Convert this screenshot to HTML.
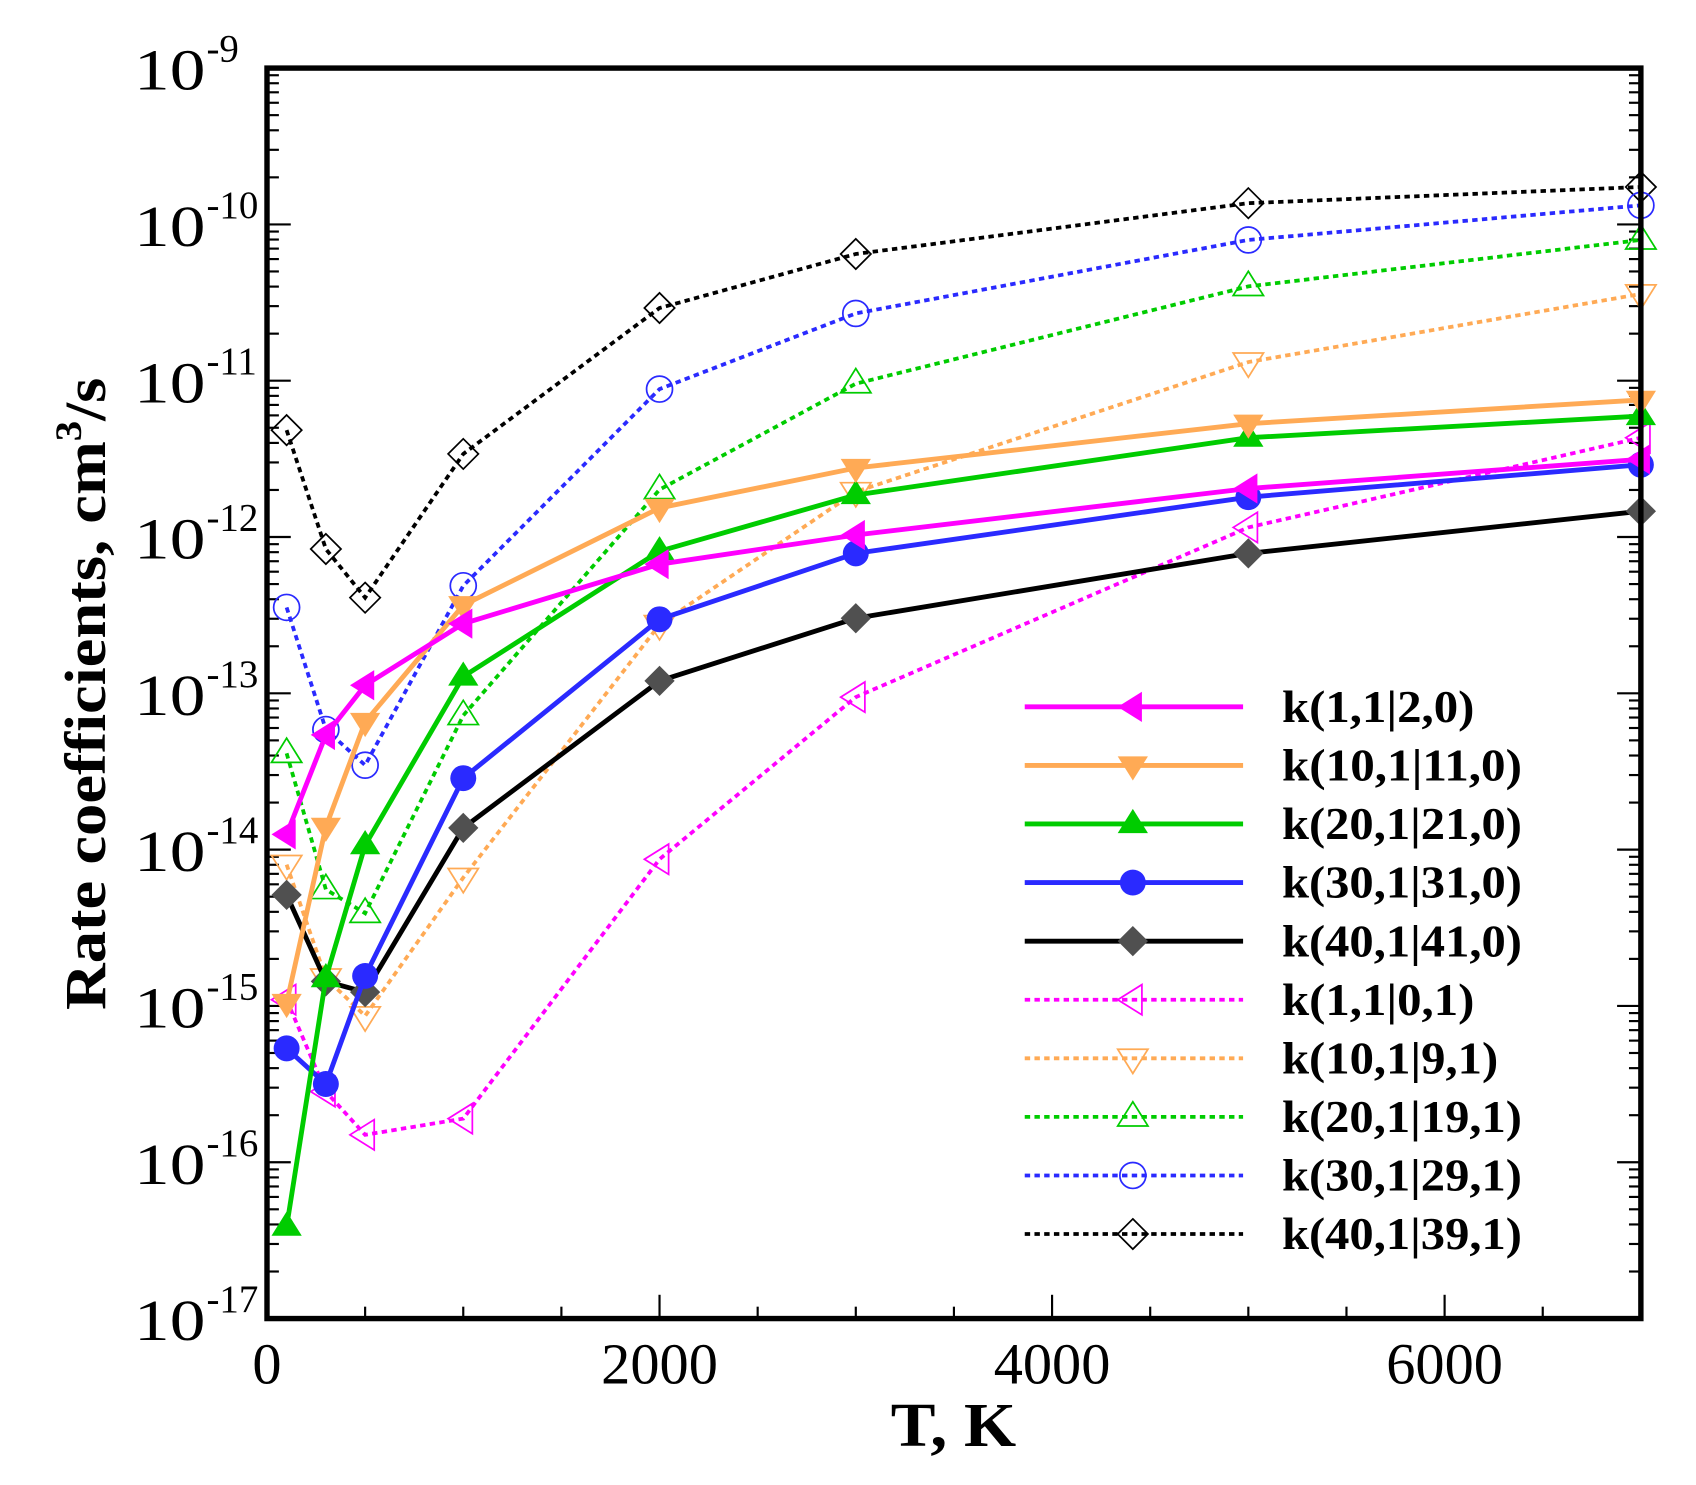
<!DOCTYPE html>
<html><head><meta charset="utf-8"><style>
html,body{margin:0;padding:0;background:#fff;}
svg{display:block;}
</style></head><body>
<svg id="s" xmlns="http://www.w3.org/2000/svg" width="1696" height="1485" viewBox="0 0 1569 1374" preserveAspectRatio="none"></svg>
<script>
const s=document.getElementById('s');
let h='';
const X0=247,X1=1518,Y0=63,Y1=1220;
const xp=t=>X0+t/7000*(X1-X0);
const dec=(Y1-Y0)/8;
const yp=l=>Y0+(-9-l)*dec;
for(let d=-17;d<-9;d++){
  for(let m=1;m<10;m++){
    const y=yp(d+Math.log10(m));
    const L=m==1?22:11;
    h+=`<line x1="${X0}" y1="${y}" x2="${X0+L}" y2="${y}" stroke="#000" stroke-width="2"/>`;
    h+=`<line x1="${X1}" y1="${y}" x2="${X1-L}" y2="${y}" stroke="#000" stroke-width="2"/>`;
  }
}
for(let d=-17;d<=-9;d++){
  const y=yp(d);
  h+=`<text x="190" y="${y+20}" text-anchor="end" font-family="Liberation Serif, serif" font-size="54" textLength="66" lengthAdjust="spacingAndGlyphs">10</text>`;
  h+=`<text x="191" y="${y-6}" font-family="Liberation Serif, serif" font-size="36">${d}</text>`;
}
for(let t=500;t<7000;t+=500){
  const x=xp(t);const L=t%2000==0?22:11;
  h+=`<line x1="${x}" y1="${Y1}" x2="${x}" y2="${Y1-L}" stroke="#000" stroke-width="2"/>`;
}
for(const t of [0,2000,4000,6000]){
  h+=`<text x="${xp(t)}" y="1280" text-anchor="middle" font-family="Liberation Serif, serif" font-size="54">${t}</text>`;
}
h+=`<text x="882" y="1338" text-anchor="middle" font-family="Liberation Serif, serif" font-weight="bold" font-size="58" textLength="116" lengthAdjust="spacingAndGlyphs">T, K</text>`;
h+=`<text transform="translate(97,642) rotate(-90)" text-anchor="middle" font-family="Liberation Serif, serif" font-weight="bold" font-size="54" textLength="585" lengthAdjust="spacingAndGlyphs">Rate coefficients, cm<tspan dy="-22" font-size="34">3</tspan><tspan dy="22">/s</tspan></text>`;
const T=[100,300,500,1000,2000,3000,5000,7000];
const S=[
 ['#ff00ff','lt',0,[772,680,634,577,522,495,452,425],'k(1,1|2,0)',178],
 ['#ffaa55','dt',0,[928,765,668,560,470,433,392,370],'k(10,1|11,0)',222],
 ['#00cc00','ut',0,[1135,905,782,626,510,458,405,385],'k(20,1|21,0)',222],
 ['#2a2aff','c',0,[970,1003,903,720,573,512,460,430],'k(30,1|31,0)',222],
 ['#000000','d',0,[828,908,918,766,630,572,512,473],'k(40,1|41,0)',222],
 ['#ff00ff','lt',1,[925,1010,1050,1035,795,645,488,405],'k(1,1|0,1)',178],
 ['#ffaa55','dt',1,[800,905,940,812,578,455,335,272],'k(10,1|9,1)',200],
 ['#00cc00','ut',1,[697,823,845,662,453,355,265,222],'k(20,1|19,1)',222],
 ['#2a2aff','c',1,[562,675,708,542,360,290,222,190],'k(30,1|29,1)',222],
 ['#000000','d',1,[398,508,553,420,285,235,188,173],'k(40,1|39,1)',222]
];
function mk(type,x,y,col,open){
  const r=14;
  const fill=open?'none':(type=='d'?'#505050':col);
  const st=open?`stroke="${col}" stroke-width="1.6"`:'';
  let p;
  if(type=='c')return `<circle cx="${x}" cy="${y}" r="${r-2}" fill="${fill}" ${st}/>`;
  if(type=='lt')p=[[x-r,y],[x+r*0.6,y-r],[x+r*0.6,y+r]];
  if(type=='dt')p=[[x-r,y-r*0.6],[x+r,y-r*0.6],[x,y+r]];
  if(type=='ut')p=[[x-r,y+r*0.6],[x+r,y+r*0.6],[x,y-r]];
  if(type=='d')p=[[x,y-r],[x+r,y],[x,y+r],[x-r,y]];
  return `<polygon points="${p.map(q=>q.join(',')).join(' ')}" fill="${fill}" ${st}/>`;
}
let order=[9,8,7,6,5,4,3,2,1,0];
for(const i of order){
  const [col,type,dash,ys]=S[i];
  const pts=T.map((t,j)=>xp(t)+','+ys[j]).join(' ');
  const da=dash?'stroke-dasharray="5,4"':'';
  h+=`<polyline points="${pts}" fill="none" stroke="${col}" stroke-width="${dash?3.5:4.5}" ${da}/>`;
  T.forEach((t,j)=>{h+=mk(type,xp(t),ys[j],col,dash);});
}
S.forEach((sr,i)=>{
  const y=654+i*54.2;
  const [col,type,dash]=sr;
  h+=`<line x1="948" y1="${y}" x2="1150" y2="${y}" stroke="${col}" stroke-width="${dash?3.5:4.5}" ${dash?'stroke-dasharray="5,4"':''}/>`;
  h+=mk(type,1048,y,col,dash);
  h+=`<text x="1186" y="${y+14}" font-family="Liberation Serif, serif" font-weight="bold" font-size="42" textLength="${sr[5]}" lengthAdjust="spacingAndGlyphs">${sr[4]}</text>`;
});
h+=`<rect x="${X0}" y="${Y0}" width="${X1-X0}" height="${Y1-Y0}" fill="none" stroke="#000" stroke-width="5"/>`;
s.innerHTML=h;
</script>
</body></html>
